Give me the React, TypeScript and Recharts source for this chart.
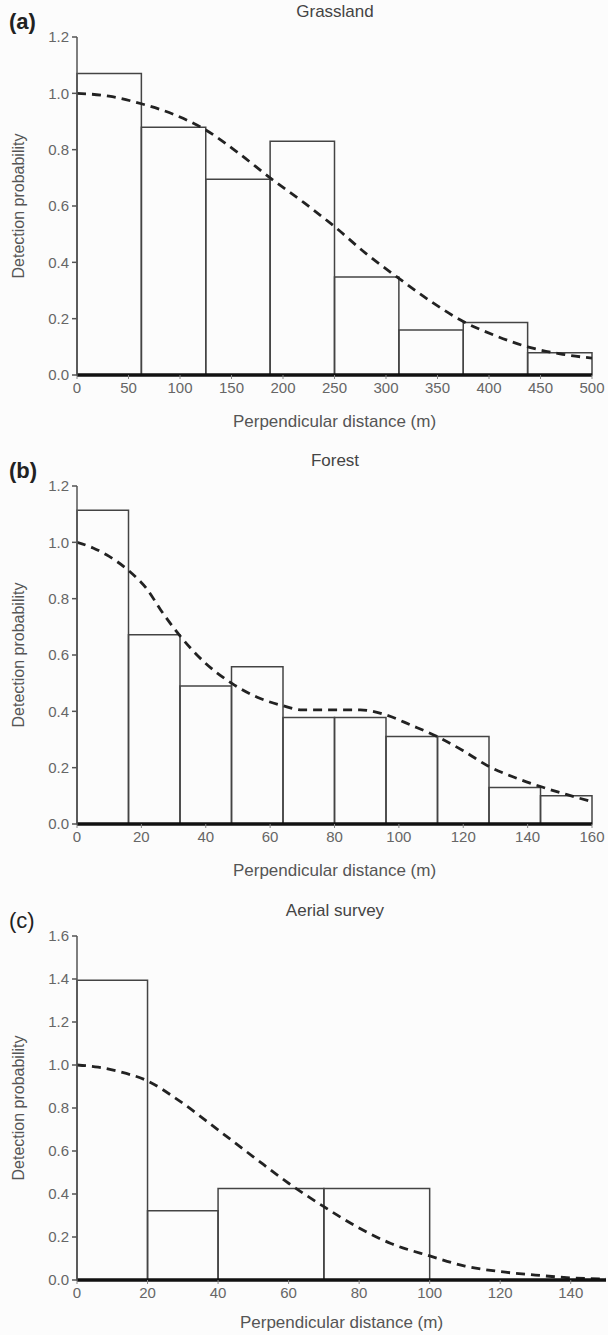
import {
  ComposedChart,
  Line,
  XAxis,
  YAxis,
  ReferenceArea,
  Label,
} from 'recharts'

// (a) Grassland
const GRASS_EDGES = [0, 62.5, 125, 187.5, 250, 312.5, 375, 437.5, 500]
const GRASS_HEIGHTS = [1.07, 0.88, 0.695, 0.83, 0.348, 0.16, 0.186, 0.079]
const GRASS_CURVE_X = [0, 31, 62.5, 94, 125, 156, 187.5, 221, 250, 281, 312.5, 344, 375, 406, 437.5, 469, 500]
const GRASS_CURVE_Y = [1.0, 0.99, 0.963, 0.925, 0.87, 0.79, 0.7, 0.61, 0.527, 0.43, 0.343, 0.26, 0.19, 0.14, 0.1, 0.075, 0.06]
const GRASS_X_TICKS = [0, 50, 100, 150, 200, 250, 300, 350, 400, 450, 500]

// (b) Forest
const FOREST_EDGES = [0, 16, 32, 48, 64, 80, 96, 112, 128, 144, 160]
const FOREST_HEIGHTS = [1.114, 0.672, 0.49, 0.558, 0.378, 0.378, 0.311, 0.311, 0.13, 0.1]
const FOREST_CURVE_X = [0, 5, 10, 16, 22, 26, 32, 40, 48, 56, 64, 70, 80, 88, 96, 104, 112, 120, 128, 136, 144, 152, 160]
const FOREST_CURVE_Y = [1.0, 0.98, 0.95, 0.9, 0.83, 0.76, 0.668, 0.57, 0.5, 0.45, 0.42, 0.405, 0.405, 0.405, 0.387, 0.35, 0.31, 0.26, 0.204, 0.165, 0.133, 0.105, 0.079]
const FOREST_X_TICKS = [0, 20, 40, 60, 80, 100, 120, 140, 160]

// (c) Aerial survey
const AERIAL_EDGES = [0, 20, 40, 70, 100]
const AERIAL_HEIGHTS = [1.394, 0.322, 0.426, 0.426]
const AERIAL_CURVE_X = [0, 6, 12, 20, 28, 40, 50, 60, 70, 80, 89, 100, 110, 120, 130, 140, 150]
const AERIAL_CURVE_Y = [1.0, 0.99, 0.969, 0.926, 0.845, 0.698, 0.573, 0.45, 0.341, 0.242, 0.17, 0.112, 0.065, 0.039, 0.023, 0.01, 0.005]
const AERIAL_X_TICKS = [0, 20, 40, 60, 80, 100, 120, 140]

const Y_TICKS_12 = [0, 0.2, 0.4, 0.6, 0.8, 1.0, 1.2]
const Y_TICKS_16 = [0, 0.2, 0.4, 0.6, 0.8, 1.0, 1.2, 1.4, 1.6]

const FONT = '"Liberation Sans", Arial, sans-serif'
const TICK = { fontSize: 15, fill: '#666', fontFamily: FONT }

interface PanelProps {
  tag: string
  tagBold: boolean
  title: string
  top: number
  height: number
  margin: { top: number; right: number; bottom: number; left: number }
  xAxisHeight: number
  xMax: number
  xTicks: number[]
  yMax: number
  yTicks: number[]
  edges: number[]
  heights: number[]
  curveX: number[]
  curveY: number[]
}

function Panel(p: PanelProps) {
  const curve = p.curveX.map((x, i) => ({ x, y: p.curveY[i] }))
  const bins = p.heights.map((h, i) => ({ x1: p.edges[i], x2: p.edges[i + 1], h }))

  return (
    <div style={{ position: 'absolute', left: 0, top: p.top, width: 608, height: p.height }}>
      <div
        style={{
          position: 'absolute',
          left: 9,
          top: p.margin.top - 28,
          fontSize: 22,
          fontWeight: p.tagBold ? 'bold' : 'normal',
          color: '#222',
          fontFamily: FONT,
        }}
      >
        {p.tag}
      </div>
      <div
        style={{
          position: 'absolute',
          left: 235,
          width: 200,
          top: p.margin.top - 35,
          textAlign: 'center',
          fontSize: 17,
          color: '#444',
          fontFamily: FONT,
        }}
      >
        {p.title}
      </div>
      <ComposedChart width={608} height={p.height} margin={p.margin}>
        <XAxis
          type="number"
          dataKey="x"
          domain={[0, p.xMax]}
          ticks={p.xTicks}
          allowDataOverflow
          height={p.xAxisHeight}
          axisLine={{ stroke: '#111', strokeWidth: 3.5 }}
          tickLine={{ stroke: '#888' }}
          tickSize={4}
          tickMargin={3}
          tick={TICK}
        >
          <Label
            value="Perpendicular distance (m)"
            position="insideBottom"
            offset={0}
            style={{ fontSize: 17, fill: '#555', fontFamily: FONT }}
          />
        </XAxis>
        <YAxis
          type="number"
          domain={[0, p.yMax]}
          ticks={p.yTicks}
          width={70}
          axisLine={{ stroke: '#555', strokeWidth: 1.5 }}
          tickLine={{ stroke: '#555', strokeWidth: 1.5 }}
          tickSize={5}
          tickMargin={3}
          tick={TICK}
          tickFormatter={(v: number) => v.toFixed(1)}
        >
          <Label
            value="Detection probability"
            angle={-90}
            position="insideLeft"
            offset={11}
            style={{ fontSize: 16, fill: '#555', fontFamily: FONT, textAnchor: 'middle' }}
          />
        </YAxis>
        {bins.map((b, i) => (
          <ReferenceArea
            key={i}
            x1={b.x1}
            x2={b.x2}
            y1={0}
            y2={b.h}
            fill="none"
            fillOpacity={0}
            stroke="#444"
            strokeWidth={1.5}
            ifOverflow="visible"
          />
        ))}
        <Line
          data={curve}
          dataKey="y"
          type="monotone"
          stroke="#222"
          strokeWidth={2.8}
          strokeDasharray="9 6"
          dot={false}
          activeDot={false}
          isAnimationActive={false}
        />
      </ComposedChart>
    </div>
  )
}

export default function App() {
  return (
    <div
      style={{
        position: 'absolute',
        left: 0,
        top: 0,
        width: 608,
        height: 1335,
        background: '#fcfcfc',
        overflow: 'hidden',
      }}
    >
      <Panel
        tag="(a)"
        tagBold
        title="Grassland"
        top={0}
        height={440}
        margin={{ top: 37, right: 16, bottom: 13, left: 7 }}
        xAxisHeight={52}
        xMax={500}
        xTicks={GRASS_X_TICKS}
        yMax={1.2}
        yTicks={Y_TICKS_12}
        edges={GRASS_EDGES}
        heights={GRASS_HEIGHTS}
        curveX={GRASS_CURVE_X}
        curveY={GRASS_CURVE_Y}
      />
      <Panel
        tag="(b)"
        tagBold
        title="Forest"
        top={440}
        height={450}
        margin={{ top: 46, right: 16, bottom: 14, left: 7 }}
        xAxisHeight={52}
        xMax={160}
        xTicks={FOREST_X_TICKS}
        yMax={1.2}
        yTicks={Y_TICKS_12}
        edges={FOREST_EDGES}
        heights={FOREST_HEIGHTS}
        curveX={FOREST_CURVE_X}
        curveY={FOREST_CURVE_Y}
      />
      <Panel
        tag="(c)"
        tagBold={false}
        title="Aerial survey"
        top={890}
        height={445}
        margin={{ top: 46, right: 2, bottom: 7, left: 7 }}
        xAxisHeight={48}
        xMax={150}
        xTicks={AERIAL_X_TICKS}
        yMax={1.6}
        yTicks={Y_TICKS_16}
        edges={AERIAL_EDGES}
        heights={AERIAL_HEIGHTS}
        curveX={AERIAL_CURVE_X}
        curveY={AERIAL_CURVE_Y}
      />
    </div>
  )
}
